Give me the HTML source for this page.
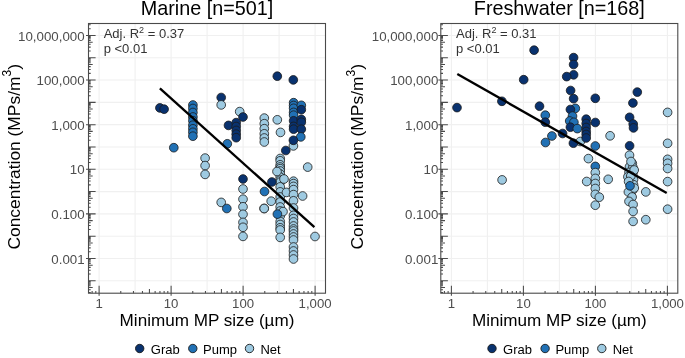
<!DOCTYPE html><html><head><meta charset="utf-8"><style>html,body{margin:0;padding:0;background:#fff;}svg{display:block;will-change:transform;}text{font-family:"Liberation Sans", sans-serif;}</style></head><body>
<svg width="685" height="358" viewBox="0 0 685 358">
<rect width="685" height="358" fill="#fff"/>
<line x1="99.10" y1="23.5" x2="99.10" y2="293.2" stroke="#F0F0F0" stroke-width="1.1"/><line x1="135.10" y1="23.5" x2="135.10" y2="293.2" stroke="#F0F0F0" stroke-width="1.1"/><line x1="171.10" y1="23.5" x2="171.10" y2="293.2" stroke="#F0F0F0" stroke-width="1.1"/><line x1="207.10" y1="23.5" x2="207.10" y2="293.2" stroke="#F0F0F0" stroke-width="1.1"/><line x1="243.10" y1="23.5" x2="243.10" y2="293.2" stroke="#F0F0F0" stroke-width="1.1"/><line x1="279.10" y1="23.5" x2="279.10" y2="293.2" stroke="#F0F0F0" stroke-width="1.1"/><line x1="315.10" y1="23.5" x2="315.10" y2="293.2" stroke="#F0F0F0" stroke-width="1.1"/><line x1="88.5" y1="280.81" x2="325.5" y2="280.81" stroke="#F0F0F0" stroke-width="1.1"/><line x1="88.5" y1="258.50" x2="325.5" y2="258.50" stroke="#F0F0F0" stroke-width="1.1"/><line x1="88.5" y1="236.19" x2="325.5" y2="236.19" stroke="#F0F0F0" stroke-width="1.1"/><line x1="88.5" y1="213.89" x2="325.5" y2="213.89" stroke="#F0F0F0" stroke-width="1.1"/><line x1="88.5" y1="191.58" x2="325.5" y2="191.58" stroke="#F0F0F0" stroke-width="1.1"/><line x1="88.5" y1="169.28" x2="325.5" y2="169.28" stroke="#F0F0F0" stroke-width="1.1"/><line x1="88.5" y1="146.98" x2="325.5" y2="146.98" stroke="#F0F0F0" stroke-width="1.1"/><line x1="88.5" y1="124.67" x2="325.5" y2="124.67" stroke="#F0F0F0" stroke-width="1.1"/><line x1="88.5" y1="102.36" x2="325.5" y2="102.36" stroke="#F0F0F0" stroke-width="1.1"/><line x1="88.5" y1="80.06" x2="325.5" y2="80.06" stroke="#F0F0F0" stroke-width="1.1"/><line x1="88.5" y1="57.76" x2="325.5" y2="57.76" stroke="#F0F0F0" stroke-width="1.1"/><line x1="88.5" y1="35.45" x2="325.5" y2="35.45" stroke="#F0F0F0" stroke-width="1.1"/>
<circle cx="159.9" cy="107.9" r="4.35" fill="#09326F" stroke="#1a1a1a" stroke-width="0.8"/>
<circle cx="164.1" cy="109.2" r="4.35" fill="#09326F" stroke="#1a1a1a" stroke-width="0.8"/>
<circle cx="173.8" cy="147.7" r="4.35" fill="#2171B5" stroke="#1a1a1a" stroke-width="0.8"/>
<circle cx="192.9" cy="105.0" r="4.35" fill="#2171B5" stroke="#1a1a1a" stroke-width="0.8"/>
<circle cx="192.9" cy="108.5" r="4.35" fill="#2171B5" stroke="#1a1a1a" stroke-width="0.8"/>
<circle cx="192.9" cy="112.5" r="4.35" fill="#2171B5" stroke="#1a1a1a" stroke-width="0.8"/>
<circle cx="192.9" cy="117.0" r="4.35" fill="#2171B5" stroke="#1a1a1a" stroke-width="0.8"/>
<circle cx="192.9" cy="120.7" r="4.35" fill="#2171B5" stroke="#1a1a1a" stroke-width="0.8"/>
<circle cx="192.9" cy="125.2" r="4.35" fill="#2171B5" stroke="#1a1a1a" stroke-width="0.8"/>
<circle cx="192.9" cy="128.8" r="4.35" fill="#2171B5" stroke="#1a1a1a" stroke-width="0.8"/>
<circle cx="192.9" cy="132.3" r="4.35" fill="#2171B5" stroke="#1a1a1a" stroke-width="0.8"/>
<circle cx="192.9" cy="136.2" r="4.35" fill="#2171B5" stroke="#1a1a1a" stroke-width="0.8"/>
<circle cx="205.1" cy="158.1" r="4.35" fill="#9ECAE1" stroke="#1a1a1a" stroke-width="0.8"/>
<circle cx="205.1" cy="165.6" r="4.35" fill="#9ECAE1" stroke="#1a1a1a" stroke-width="0.8"/>
<circle cx="205.1" cy="174.4" r="4.35" fill="#9ECAE1" stroke="#1a1a1a" stroke-width="0.8"/>
<circle cx="221.2" cy="97.5" r="4.35" fill="#09326F" stroke="#1a1a1a" stroke-width="0.8"/>
<circle cx="221.2" cy="104.9" r="4.35" fill="#9ECAE1" stroke="#1a1a1a" stroke-width="0.8"/>
<circle cx="239.7" cy="111.6" r="4.35" fill="#9ECAE1" stroke="#1a1a1a" stroke-width="0.8"/>
<circle cx="243.0" cy="117.0" r="4.35" fill="#09326F" stroke="#1a1a1a" stroke-width="0.8"/>
<circle cx="228.5" cy="125.4" r="4.35" fill="#09326F" stroke="#1a1a1a" stroke-width="0.8"/>
<circle cx="236.2" cy="122.6" r="4.35" fill="#09326F" stroke="#1a1a1a" stroke-width="0.8"/>
<circle cx="236.2" cy="126.5" r="4.35" fill="#09326F" stroke="#1a1a1a" stroke-width="0.8"/>
<circle cx="236.2" cy="130.4" r="4.35" fill="#09326F" stroke="#1a1a1a" stroke-width="0.8"/>
<circle cx="236.2" cy="134.2" r="4.35" fill="#09326F" stroke="#1a1a1a" stroke-width="0.8"/>
<circle cx="236.2" cy="137.7" r="4.35" fill="#09326F" stroke="#1a1a1a" stroke-width="0.8"/>
<circle cx="227.3" cy="143.8" r="4.35" fill="#2171B5" stroke="#1a1a1a" stroke-width="0.8"/>
<circle cx="221.2" cy="202.4" r="4.35" fill="#9ECAE1" stroke="#1a1a1a" stroke-width="0.8"/>
<circle cx="226.8" cy="208.5" r="4.35" fill="#2171B5" stroke="#1a1a1a" stroke-width="0.8"/>
<circle cx="243.0" cy="179.0" r="4.35" fill="#09326F" stroke="#1a1a1a" stroke-width="0.8"/>
<circle cx="243.0" cy="189.0" r="4.35" fill="#9ECAE1" stroke="#1a1a1a" stroke-width="0.8"/>
<circle cx="243.0" cy="199.2" r="4.35" fill="#9ECAE1" stroke="#1a1a1a" stroke-width="0.8"/>
<circle cx="243.0" cy="206.8" r="4.35" fill="#9ECAE1" stroke="#1a1a1a" stroke-width="0.8"/>
<circle cx="243.0" cy="214.3" r="4.35" fill="#9ECAE1" stroke="#1a1a1a" stroke-width="0.8"/>
<circle cx="243.0" cy="222.4" r="4.35" fill="#9ECAE1" stroke="#1a1a1a" stroke-width="0.8"/>
<circle cx="243.0" cy="227.3" r="4.35" fill="#9ECAE1" stroke="#1a1a1a" stroke-width="0.8"/>
<circle cx="243.0" cy="236.4" r="4.35" fill="#9ECAE1" stroke="#1a1a1a" stroke-width="0.8"/>
<circle cx="264.3" cy="118.1" r="4.35" fill="#9ECAE1" stroke="#1a1a1a" stroke-width="0.8"/>
<circle cx="264.3" cy="123.7" r="4.35" fill="#9ECAE1" stroke="#1a1a1a" stroke-width="0.8"/>
<circle cx="264.3" cy="128.7" r="4.35" fill="#9ECAE1" stroke="#1a1a1a" stroke-width="0.8"/>
<circle cx="264.3" cy="133.8" r="4.35" fill="#9ECAE1" stroke="#1a1a1a" stroke-width="0.8"/>
<circle cx="264.3" cy="138.0" r="4.35" fill="#9ECAE1" stroke="#1a1a1a" stroke-width="0.8"/>
<circle cx="264.3" cy="142.0" r="4.35" fill="#9ECAE1" stroke="#1a1a1a" stroke-width="0.8"/>
<circle cx="264.1" cy="208.5" r="4.35" fill="#9ECAE1" stroke="#1a1a1a" stroke-width="0.8"/>
<circle cx="264.5" cy="191.5" r="4.35" fill="#2171B5" stroke="#1a1a1a" stroke-width="0.8"/>
<circle cx="277.3" cy="76.2" r="4.35" fill="#09326F" stroke="#1a1a1a" stroke-width="0.8"/>
<circle cx="293.3" cy="79.9" r="4.35" fill="#09326F" stroke="#1a1a1a" stroke-width="0.8"/>
<circle cx="277.3" cy="119.8" r="4.35" fill="#9ECAE1" stroke="#1a1a1a" stroke-width="0.8"/>
<circle cx="280.5" cy="132.4" r="4.35" fill="#9ECAE1" stroke="#1a1a1a" stroke-width="0.8"/>
<circle cx="293.6" cy="102.7" r="4.35" fill="#2171B5" stroke="#1a1a1a" stroke-width="0.8"/>
<circle cx="293.6" cy="105.5" r="4.35" fill="#2171B5" stroke="#1a1a1a" stroke-width="0.8"/>
<circle cx="293.6" cy="108.3" r="4.35" fill="#2171B5" stroke="#1a1a1a" stroke-width="0.8"/>
<circle cx="293.6" cy="112.4" r="4.35" fill="#2171B5" stroke="#1a1a1a" stroke-width="0.8"/>
<circle cx="293.6" cy="115.2" r="4.35" fill="#2171B5" stroke="#1a1a1a" stroke-width="0.8"/>
<circle cx="293.6" cy="120.8" r="4.35" fill="#09326F" stroke="#1a1a1a" stroke-width="0.8"/>
<circle cx="293.6" cy="126.4" r="4.35" fill="#09326F" stroke="#1a1a1a" stroke-width="0.8"/>
<circle cx="293.6" cy="129.2" r="4.35" fill="#09326F" stroke="#1a1a1a" stroke-width="0.8"/>
<circle cx="301.3" cy="105.3" r="4.35" fill="#2171B5" stroke="#1a1a1a" stroke-width="0.8"/>
<circle cx="301.3" cy="109.7" r="4.35" fill="#09326F" stroke="#1a1a1a" stroke-width="0.8"/>
<circle cx="301.3" cy="119.4" r="4.35" fill="#09326F" stroke="#1a1a1a" stroke-width="0.8"/>
<circle cx="301.3" cy="122.2" r="4.35" fill="#09326F" stroke="#1a1a1a" stroke-width="0.8"/>
<circle cx="301.3" cy="129.2" r="4.35" fill="#09326F" stroke="#1a1a1a" stroke-width="0.8"/>
<circle cx="300.8" cy="136.9" r="4.35" fill="#2171B5" stroke="#1a1a1a" stroke-width="0.8"/>
<circle cx="293.4" cy="145.9" r="4.35" fill="#9ECAE1" stroke="#1a1a1a" stroke-width="0.8"/>
<circle cx="293.4" cy="140.3" r="4.35" fill="#09326F" stroke="#1a1a1a" stroke-width="0.8"/>
<circle cx="285.8" cy="150.5" r="4.35" fill="#09326F" stroke="#1a1a1a" stroke-width="0.8"/>
<circle cx="307.7" cy="167.1" r="4.35" fill="#9ECAE1" stroke="#1a1a1a" stroke-width="0.8"/>
<circle cx="280.2" cy="158.5" r="4.35" fill="#9ECAE1" stroke="#1a1a1a" stroke-width="0.8"/>
<circle cx="280.2" cy="160.8" r="4.35" fill="#9ECAE1" stroke="#1a1a1a" stroke-width="0.8"/>
<circle cx="280.2" cy="164.8" r="4.35" fill="#9ECAE1" stroke="#1a1a1a" stroke-width="0.8"/>
<circle cx="280.2" cy="167.0" r="4.35" fill="#9ECAE1" stroke="#1a1a1a" stroke-width="0.8"/>
<circle cx="280.2" cy="168.7" r="4.35" fill="#9ECAE1" stroke="#1a1a1a" stroke-width="0.8"/>
<circle cx="280.2" cy="171.0" r="4.35" fill="#9ECAE1" stroke="#1a1a1a" stroke-width="0.8"/>
<circle cx="280.2" cy="174.0" r="4.35" fill="#9ECAE1" stroke="#1a1a1a" stroke-width="0.8"/>
<circle cx="280.2" cy="177.0" r="4.35" fill="#9ECAE1" stroke="#1a1a1a" stroke-width="0.8"/>
<circle cx="280.2" cy="180.2" r="4.35" fill="#9ECAE1" stroke="#1a1a1a" stroke-width="0.8"/>
<circle cx="280.2" cy="182.1" r="4.35" fill="#9ECAE1" stroke="#1a1a1a" stroke-width="0.8"/>
<circle cx="280.2" cy="186.9" r="4.35" fill="#9ECAE1" stroke="#1a1a1a" stroke-width="0.8"/>
<circle cx="280.2" cy="191.9" r="4.35" fill="#9ECAE1" stroke="#1a1a1a" stroke-width="0.8"/>
<circle cx="280.2" cy="197.0" r="4.35" fill="#9ECAE1" stroke="#1a1a1a" stroke-width="0.8"/>
<circle cx="280.2" cy="202.0" r="4.35" fill="#9ECAE1" stroke="#1a1a1a" stroke-width="0.8"/>
<circle cx="280.2" cy="207.0" r="4.35" fill="#9ECAE1" stroke="#1a1a1a" stroke-width="0.8"/>
<circle cx="280.2" cy="211.0" r="4.35" fill="#9ECAE1" stroke="#1a1a1a" stroke-width="0.8"/>
<circle cx="280.2" cy="216.0" r="4.35" fill="#9ECAE1" stroke="#1a1a1a" stroke-width="0.8"/>
<circle cx="280.2" cy="221.5" r="4.35" fill="#9ECAE1" stroke="#1a1a1a" stroke-width="0.8"/>
<circle cx="280.2" cy="224.5" r="4.35" fill="#9ECAE1" stroke="#1a1a1a" stroke-width="0.8"/>
<circle cx="280.2" cy="227.8" r="4.35" fill="#9ECAE1" stroke="#1a1a1a" stroke-width="0.8"/>
<circle cx="280.2" cy="230.0" r="4.35" fill="#9ECAE1" stroke="#1a1a1a" stroke-width="0.8"/>
<circle cx="280.2" cy="237.4" r="4.35" fill="#9ECAE1" stroke="#1a1a1a" stroke-width="0.8"/>
<circle cx="277.0" cy="171.5" r="4.35" fill="#9ECAE1" stroke="#1a1a1a" stroke-width="0.8"/>
<circle cx="284.0" cy="179.0" r="4.35" fill="#9ECAE1" stroke="#1a1a1a" stroke-width="0.8"/>
<circle cx="271.9" cy="182.0" r="4.35" fill="#09326F" stroke="#1a1a1a" stroke-width="0.8"/>
<circle cx="271.2" cy="201.2" r="4.35" fill="#9ECAE1" stroke="#1a1a1a" stroke-width="0.8"/>
<circle cx="264.2" cy="208.5" r="4.35" fill="#9ECAE1" stroke="#1a1a1a" stroke-width="0.8"/>
<circle cx="286.5" cy="192.4" r="4.35" fill="#9ECAE1" stroke="#1a1a1a" stroke-width="0.8"/>
<circle cx="283.0" cy="211.6" r="4.35" fill="#9ECAE1" stroke="#1a1a1a" stroke-width="0.8"/>
<circle cx="277.4" cy="214.1" r="4.35" fill="#2171B5" stroke="#1a1a1a" stroke-width="0.8"/>
<circle cx="293.5" cy="181.2" r="4.35" fill="#9ECAE1" stroke="#1a1a1a" stroke-width="0.8"/>
<circle cx="293.5" cy="183.6" r="4.35" fill="#9ECAE1" stroke="#1a1a1a" stroke-width="0.8"/>
<circle cx="293.5" cy="186.4" r="4.35" fill="#9ECAE1" stroke="#1a1a1a" stroke-width="0.8"/>
<circle cx="293.5" cy="189.6" r="4.35" fill="#9ECAE1" stroke="#1a1a1a" stroke-width="0.8"/>
<circle cx="293.5" cy="194.6" r="4.35" fill="#9ECAE1" stroke="#1a1a1a" stroke-width="0.8"/>
<circle cx="293.5" cy="200.8" r="4.35" fill="#9ECAE1" stroke="#1a1a1a" stroke-width="0.8"/>
<circle cx="293.5" cy="208.0" r="4.35" fill="#9ECAE1" stroke="#1a1a1a" stroke-width="0.8"/>
<circle cx="293.5" cy="215.3" r="4.35" fill="#9ECAE1" stroke="#1a1a1a" stroke-width="0.8"/>
<circle cx="293.5" cy="218.5" r="4.35" fill="#9ECAE1" stroke="#1a1a1a" stroke-width="0.8"/>
<circle cx="293.5" cy="222.0" r="4.35" fill="#9ECAE1" stroke="#1a1a1a" stroke-width="0.8"/>
<circle cx="293.5" cy="226.0" r="4.35" fill="#9ECAE1" stroke="#1a1a1a" stroke-width="0.8"/>
<circle cx="293.5" cy="229.0" r="4.35" fill="#9ECAE1" stroke="#1a1a1a" stroke-width="0.8"/>
<circle cx="293.5" cy="231.0" r="4.35" fill="#9ECAE1" stroke="#1a1a1a" stroke-width="0.8"/>
<circle cx="293.5" cy="234.0" r="4.35" fill="#9ECAE1" stroke="#1a1a1a" stroke-width="0.8"/>
<circle cx="293.5" cy="237.0" r="4.35" fill="#9ECAE1" stroke="#1a1a1a" stroke-width="0.8"/>
<circle cx="293.5" cy="240.0" r="4.35" fill="#9ECAE1" stroke="#1a1a1a" stroke-width="0.8"/>
<circle cx="293.5" cy="247.0" r="4.35" fill="#9ECAE1" stroke="#1a1a1a" stroke-width="0.8"/>
<circle cx="293.5" cy="251.0" r="4.35" fill="#9ECAE1" stroke="#1a1a1a" stroke-width="0.8"/>
<circle cx="293.5" cy="255.0" r="4.35" fill="#9ECAE1" stroke="#1a1a1a" stroke-width="0.8"/>
<circle cx="293.5" cy="259.0" r="4.35" fill="#9ECAE1" stroke="#1a1a1a" stroke-width="0.8"/>
<circle cx="302.6" cy="196.0" r="4.35" fill="#9ECAE1" stroke="#1a1a1a" stroke-width="0.8"/>
<circle cx="315.0" cy="236.5" r="4.35" fill="#9ECAE1" stroke="#1a1a1a" stroke-width="0.8"/>
<line x1="159.9" y1="88.4" x2="314.4" y2="227.2" stroke="#000" stroke-width="2.35" stroke-linecap="butt"/>
<rect x="88.5" y="23.5" width="237.00" height="269.70" fill="none" stroke="#4A4A4A" stroke-width="1.1"/>
<path d="M88.50 292.47h2.2 M88.50 289.68h2.2 M88.50 287.52h4.2 M88.50 285.75h2.2 M88.50 284.26h2.2 M88.50 282.97h2.2 M88.50 281.83h2.2 M88.50 280.81h7.1 M88.50 274.09h2.2 M88.50 270.16h2.2 M88.50 267.38h2.2 M88.50 265.21h4.2 M88.50 263.45h2.2 M88.50 261.96h2.2 M88.50 260.66h2.2 M88.50 259.52h2.2 M88.50 258.50h7.1 M88.50 251.79h2.2 M88.50 247.86h2.2 M88.50 245.07h2.2 M88.50 242.91h4.2 M88.50 241.14h2.2 M88.50 239.65h2.2 M88.50 238.36h2.2 M88.50 237.22h2.2 M88.50 236.19h7.1 M88.50 229.48h2.2 M88.50 225.55h2.2 M88.50 222.77h2.2 M88.50 220.60h4.2 M88.50 218.84h2.2 M88.50 217.35h2.2 M88.50 216.05h2.2 M88.50 214.91h2.2 M88.50 213.89h7.1 M88.50 207.18h2.2 M88.50 203.25h2.2 M88.50 200.46h2.2 M88.50 198.30h4.2 M88.50 196.53h2.2 M88.50 195.04h2.2 M88.50 193.75h2.2 M88.50 192.61h2.2 M88.50 191.58h7.1 M88.50 184.87h2.2 M88.50 180.94h2.2 M88.50 178.16h2.2 M88.50 175.99h4.2 M88.50 174.23h2.2 M88.50 172.74h2.2 M88.50 171.44h2.2 M88.50 170.30h2.2 M88.50 169.28h7.1 M88.50 162.57h2.2 M88.50 158.64h2.2 M88.50 155.85h2.2 M88.50 153.69h4.2 M88.50 151.92h2.2 M88.50 150.43h2.2 M88.50 149.14h2.2 M88.50 148.00h2.2 M88.50 146.98h7.1 M88.50 140.26h2.2 M88.50 136.33h2.2 M88.50 133.55h2.2 M88.50 131.38h4.2 M88.50 129.62h2.2 M88.50 128.13h2.2 M88.50 126.83h2.2 M88.50 125.69h2.2 M88.50 124.67h7.1 M88.50 117.96h2.2 M88.50 114.03h2.2 M88.50 111.24h2.2 M88.50 109.08h4.2 M88.50 107.31h2.2 M88.50 105.82h2.2 M88.50 104.53h2.2 M88.50 103.39h2.2 M88.50 102.36h7.1 M88.50 95.65h2.2 M88.50 91.72h2.2 M88.50 88.94h2.2 M88.50 86.77h4.2 M88.50 85.01h2.2 M88.50 83.52h2.2 M88.50 82.22h2.2 M88.50 81.08h2.2 M88.50 80.06h7.1 M88.50 73.35h2.2 M88.50 69.42h2.2 M88.50 66.63h2.2 M88.50 64.47h4.2 M88.50 62.70h2.2 M88.50 61.21h2.2 M88.50 59.92h2.2 M88.50 58.78h2.2 M88.50 57.76h7.1 M88.50 51.04h2.2 M88.50 47.11h2.2 M88.50 44.33h2.2 M88.50 42.16h4.2 M88.50 40.40h2.2 M88.50 38.91h2.2 M88.50 37.61h2.2 M88.50 36.47h2.2 M88.50 35.45h7.1 M88.50 28.74h2.2 M88.50 24.81h2.2 M92.12 293.20v-2.2 M95.81 293.20v-2.2 M99.10 293.20v-7.4 M120.77 293.20v-2.2 M133.45 293.20v-2.2 M142.45 293.20v-2.2 M149.43 293.20v-4.2 M155.13 293.20v-2.2 M159.95 293.20v-2.2 M164.12 293.20v-2.2 M167.81 293.20v-2.2 M171.10 293.20v-7.4 M192.77 293.20v-2.2 M205.45 293.20v-2.2 M214.45 293.20v-2.2 M221.43 293.20v-4.2 M227.13 293.20v-2.2 M231.95 293.20v-2.2 M236.12 293.20v-2.2 M239.81 293.20v-2.2 M243.10 293.20v-7.4 M264.77 293.20v-2.2 M277.45 293.20v-2.2 M286.45 293.20v-2.2 M293.43 293.20v-4.2 M299.13 293.20v-2.2 M303.95 293.20v-2.2 M308.12 293.20v-2.2 M311.81 293.20v-2.2 M315.10 293.20v-7.4 M86.00 35.45h2.5 M86.00 80.06h2.5 M86.00 124.67h2.5 M86.00 169.28h2.5 M86.00 213.89h2.5 M86.00 258.50h2.5 M99.10 293.20v2.5 M171.10 293.20v2.5 M243.10 293.20v2.5 M315.10 293.20v2.5" stroke="#4A4A4A" stroke-width="1.05" fill="none"/>
<text x="84.6" y="40.5" font-size="13.3" fill="#4D4D4D" text-anchor="end">10,000,000</text>
<text x="84.6" y="85.1" font-size="13.3" fill="#4D4D4D" text-anchor="end">100,000</text>
<text x="84.6" y="129.7" font-size="13.3" fill="#4D4D4D" text-anchor="end">1,000</text>
<text x="84.6" y="174.3" font-size="13.3" fill="#4D4D4D" text-anchor="end">10</text>
<text x="84.6" y="218.9" font-size="13.3" fill="#4D4D4D" text-anchor="end">0.100</text>
<text x="84.6" y="263.5" font-size="13.3" fill="#4D4D4D" text-anchor="end">0.001</text>
<text x="99.1" y="307.7" font-size="13.2" fill="#4D4D4D" text-anchor="middle">1</text>
<text x="171.1" y="307.7" font-size="13.2" fill="#4D4D4D" text-anchor="middle">10</text>
<text x="243.1" y="307.7" font-size="13.2" fill="#4D4D4D" text-anchor="middle">100</text>
<text x="315.1" y="307.7" font-size="13.2" fill="#4D4D4D" text-anchor="middle">1,000</text>
<text x="207.0" y="14.8" font-size="19.8" fill="#000" text-anchor="middle">Marine [n=501]</text>
<text x="207.0" y="325.6" font-size="17.1" fill="#000" text-anchor="middle">Minimum MP size (µm)</text>
<text transform="translate(19.6,156.8) rotate(-90)" font-size="17.4" fill="#000" text-anchor="middle">Concentration (MPs/m<tspan dy="-8.6" font-size="12">3</tspan><tspan dy="8.6">)</tspan></text>
<text x="103.7" y="37.8" font-size="13" fill="#333">Adj. R<tspan dy="-4.5" font-size="9">2</tspan><tspan dy="4.5"> = 0.37</tspan></text>
<text x="103.7" y="53.4" font-size="13" fill="#333">p &lt;0.01</text>
<circle cx="139.7" cy="348.5" r="4.2" fill="#09326F" stroke="#1a1a1a" stroke-width="0.9"/>
<text x="150.8" y="353.8" font-size="13" fill="#000">Grab</text>
<circle cx="192.8" cy="348.5" r="4.2" fill="#2171B5" stroke="#1a1a1a" stroke-width="0.9"/>
<text x="203.1" y="353.8" font-size="13" fill="#000">Pump</text>
<circle cx="249.5" cy="348.5" r="4.2" fill="#9ECAE1" stroke="#1a1a1a" stroke-width="0.9"/>
<text x="260.4" y="353.8" font-size="13" fill="#000">Net</text>
<line x1="451.40" y1="23.5" x2="451.40" y2="293.2" stroke="#F0F0F0" stroke-width="1.1"/><line x1="487.40" y1="23.5" x2="487.40" y2="293.2" stroke="#F0F0F0" stroke-width="1.1"/><line x1="523.40" y1="23.5" x2="523.40" y2="293.2" stroke="#F0F0F0" stroke-width="1.1"/><line x1="559.40" y1="23.5" x2="559.40" y2="293.2" stroke="#F0F0F0" stroke-width="1.1"/><line x1="595.40" y1="23.5" x2="595.40" y2="293.2" stroke="#F0F0F0" stroke-width="1.1"/><line x1="631.40" y1="23.5" x2="631.40" y2="293.2" stroke="#F0F0F0" stroke-width="1.1"/><line x1="667.40" y1="23.5" x2="667.40" y2="293.2" stroke="#F0F0F0" stroke-width="1.1"/><line x1="440.8" y1="280.81" x2="677.8" y2="280.81" stroke="#F0F0F0" stroke-width="1.1"/><line x1="440.8" y1="258.50" x2="677.8" y2="258.50" stroke="#F0F0F0" stroke-width="1.1"/><line x1="440.8" y1="236.19" x2="677.8" y2="236.19" stroke="#F0F0F0" stroke-width="1.1"/><line x1="440.8" y1="213.89" x2="677.8" y2="213.89" stroke="#F0F0F0" stroke-width="1.1"/><line x1="440.8" y1="191.58" x2="677.8" y2="191.58" stroke="#F0F0F0" stroke-width="1.1"/><line x1="440.8" y1="169.28" x2="677.8" y2="169.28" stroke="#F0F0F0" stroke-width="1.1"/><line x1="440.8" y1="146.98" x2="677.8" y2="146.98" stroke="#F0F0F0" stroke-width="1.1"/><line x1="440.8" y1="124.67" x2="677.8" y2="124.67" stroke="#F0F0F0" stroke-width="1.1"/><line x1="440.8" y1="102.36" x2="677.8" y2="102.36" stroke="#F0F0F0" stroke-width="1.1"/><line x1="440.8" y1="80.06" x2="677.8" y2="80.06" stroke="#F0F0F0" stroke-width="1.1"/><line x1="440.8" y1="57.76" x2="677.8" y2="57.76" stroke="#F0F0F0" stroke-width="1.1"/><line x1="440.8" y1="35.45" x2="677.8" y2="35.45" stroke="#F0F0F0" stroke-width="1.1"/>
<circle cx="502.1" cy="179.9" r="4.35" fill="#9ECAE1" stroke="#1a1a1a" stroke-width="0.8"/>
<circle cx="457.0" cy="107.6" r="4.35" fill="#09326F" stroke="#1a1a1a" stroke-width="0.8"/>
<circle cx="501.9" cy="101.3" r="4.35" fill="#09326F" stroke="#1a1a1a" stroke-width="0.8"/>
<circle cx="523.7" cy="79.7" r="4.35" fill="#09326F" stroke="#1a1a1a" stroke-width="0.8"/>
<circle cx="534.1" cy="50.2" r="4.35" fill="#09326F" stroke="#1a1a1a" stroke-width="0.8"/>
<circle cx="539.5" cy="106.2" r="4.35" fill="#09326F" stroke="#1a1a1a" stroke-width="0.8"/>
<circle cx="545.3" cy="115.2" r="4.35" fill="#2171B5" stroke="#1a1a1a" stroke-width="0.8"/>
<circle cx="545.3" cy="122.2" r="4.35" fill="#09326F" stroke="#1a1a1a" stroke-width="0.8"/>
<circle cx="551.9" cy="136.0" r="4.35" fill="#2171B5" stroke="#1a1a1a" stroke-width="0.8"/>
<circle cx="545.5" cy="142.5" r="4.35" fill="#2171B5" stroke="#1a1a1a" stroke-width="0.8"/>
<circle cx="562.6" cy="133.5" r="4.35" fill="#09326F" stroke="#1a1a1a" stroke-width="0.8"/>
<circle cx="573.6" cy="57.6" r="4.35" fill="#09326F" stroke="#1a1a1a" stroke-width="0.8"/>
<circle cx="573.6" cy="64.5" r="4.35" fill="#09326F" stroke="#1a1a1a" stroke-width="0.8"/>
<circle cx="573.6" cy="74.8" r="4.35" fill="#09326F" stroke="#1a1a1a" stroke-width="0.8"/>
<circle cx="573.6" cy="98.7" r="4.35" fill="#09326F" stroke="#1a1a1a" stroke-width="0.8"/>
<circle cx="570.6" cy="90.5" r="4.35" fill="#09326F" stroke="#1a1a1a" stroke-width="0.8"/>
<circle cx="566.7" cy="76.6" r="4.35" fill="#09326F" stroke="#1a1a1a" stroke-width="0.8"/>
<circle cx="575.3" cy="108.4" r="4.35" fill="#2171B5" stroke="#1a1a1a" stroke-width="0.8"/>
<circle cx="570.4" cy="109.5" r="4.35" fill="#09326F" stroke="#1a1a1a" stroke-width="0.8"/>
<circle cx="572.5" cy="116.1" r="4.35" fill="#2171B5" stroke="#1a1a1a" stroke-width="0.8"/>
<circle cx="569.7" cy="121.0" r="4.35" fill="#2171B5" stroke="#1a1a1a" stroke-width="0.8"/>
<circle cx="573.9" cy="122.3" r="4.35" fill="#2171B5" stroke="#1a1a1a" stroke-width="0.8"/>
<circle cx="570.4" cy="127.2" r="4.35" fill="#09326F" stroke="#1a1a1a" stroke-width="0.8"/>
<circle cx="577.3" cy="128.6" r="4.35" fill="#2171B5" stroke="#1a1a1a" stroke-width="0.8"/>
<circle cx="580.3" cy="141.5" r="4.35" fill="#9ECAE1" stroke="#1a1a1a" stroke-width="0.8"/>
<circle cx="573.4" cy="143.2" r="4.35" fill="#09326F" stroke="#1a1a1a" stroke-width="0.8"/>
<circle cx="586.2" cy="119.2" r="4.35" fill="#09326F" stroke="#1a1a1a" stroke-width="0.8"/>
<circle cx="586.2" cy="123.5" r="4.35" fill="#09326F" stroke="#1a1a1a" stroke-width="0.8"/>
<circle cx="586.2" cy="127.5" r="4.35" fill="#09326F" stroke="#1a1a1a" stroke-width="0.8"/>
<circle cx="586.2" cy="131.5" r="4.35" fill="#09326F" stroke="#1a1a1a" stroke-width="0.8"/>
<circle cx="586.2" cy="134.5" r="4.35" fill="#09326F" stroke="#1a1a1a" stroke-width="0.8"/>
<circle cx="586.2" cy="138.0" r="4.35" fill="#09326F" stroke="#1a1a1a" stroke-width="0.8"/>
<circle cx="595.3" cy="98.3" r="4.35" fill="#09326F" stroke="#1a1a1a" stroke-width="0.8"/>
<circle cx="595.3" cy="122.5" r="4.35" fill="#09326F" stroke="#1a1a1a" stroke-width="0.8"/>
<circle cx="595.3" cy="146.0" r="4.35" fill="#2171B5" stroke="#1a1a1a" stroke-width="0.8"/>
<circle cx="588.4" cy="158.6" r="4.35" fill="#9ECAE1" stroke="#1a1a1a" stroke-width="0.8"/>
<circle cx="595.3" cy="166.4" r="4.35" fill="#2171B5" stroke="#1a1a1a" stroke-width="0.8"/>
<circle cx="595.3" cy="172.6" r="4.35" fill="#9ECAE1" stroke="#1a1a1a" stroke-width="0.8"/>
<circle cx="595.3" cy="178.4" r="4.35" fill="#9ECAE1" stroke="#1a1a1a" stroke-width="0.8"/>
<circle cx="595.3" cy="183.5" r="4.35" fill="#9ECAE1" stroke="#1a1a1a" stroke-width="0.8"/>
<circle cx="595.3" cy="188.5" r="4.35" fill="#9ECAE1" stroke="#1a1a1a" stroke-width="0.8"/>
<circle cx="595.3" cy="194.4" r="4.35" fill="#9ECAE1" stroke="#1a1a1a" stroke-width="0.8"/>
<circle cx="595.3" cy="205.2" r="4.35" fill="#9ECAE1" stroke="#1a1a1a" stroke-width="0.8"/>
<circle cx="586.7" cy="181.5" r="4.35" fill="#9ECAE1" stroke="#1a1a1a" stroke-width="0.8"/>
<circle cx="599.3" cy="197.2" r="4.35" fill="#9ECAE1" stroke="#1a1a1a" stroke-width="0.8"/>
<circle cx="608.2" cy="179.3" r="4.35" fill="#9ECAE1" stroke="#1a1a1a" stroke-width="0.8"/>
<circle cx="610.1" cy="135.8" r="4.35" fill="#9ECAE1" stroke="#1a1a1a" stroke-width="0.8"/>
<circle cx="637.3" cy="92.1" r="4.35" fill="#09326F" stroke="#1a1a1a" stroke-width="0.8"/>
<circle cx="632.9" cy="103.0" r="4.35" fill="#09326F" stroke="#1a1a1a" stroke-width="0.8"/>
<circle cx="629.6" cy="117.3" r="4.35" fill="#09326F" stroke="#1a1a1a" stroke-width="0.8"/>
<circle cx="633.2" cy="124.0" r="4.35" fill="#09326F" stroke="#1a1a1a" stroke-width="0.8"/>
<circle cx="633.5" cy="127.9" r="4.35" fill="#09326F" stroke="#1a1a1a" stroke-width="0.8"/>
<circle cx="629.6" cy="145.8" r="4.35" fill="#09326F" stroke="#1a1a1a" stroke-width="0.8"/>
<circle cx="629.5" cy="155.2" r="4.35" fill="#9ECAE1" stroke="#1a1a1a" stroke-width="0.8"/>
<circle cx="632.3" cy="163.4" r="4.35" fill="#9ECAE1" stroke="#1a1a1a" stroke-width="0.8"/>
<circle cx="629.5" cy="166.8" r="4.35" fill="#9ECAE1" stroke="#1a1a1a" stroke-width="0.8"/>
<circle cx="632.9" cy="167.3" r="4.35" fill="#9ECAE1" stroke="#1a1a1a" stroke-width="0.8"/>
<circle cx="629.0" cy="172.4" r="4.35" fill="#9ECAE1" stroke="#1a1a1a" stroke-width="0.8"/>
<circle cx="632.9" cy="173.5" r="4.35" fill="#9ECAE1" stroke="#1a1a1a" stroke-width="0.8"/>
<circle cx="627.9" cy="176.8" r="4.35" fill="#9ECAE1" stroke="#1a1a1a" stroke-width="0.8"/>
<circle cx="633.5" cy="179.6" r="4.35" fill="#9ECAE1" stroke="#1a1a1a" stroke-width="0.8"/>
<circle cx="633.5" cy="184.7" r="4.35" fill="#9ECAE1" stroke="#1a1a1a" stroke-width="0.8"/>
<circle cx="632.8" cy="190.0" r="4.35" fill="#9ECAE1" stroke="#1a1a1a" stroke-width="0.8"/>
<circle cx="628.4" cy="192.0" r="4.35" fill="#9ECAE1" stroke="#1a1a1a" stroke-width="0.8"/>
<circle cx="632.1" cy="197.0" r="4.35" fill="#9ECAE1" stroke="#1a1a1a" stroke-width="0.8"/>
<circle cx="629.0" cy="201.4" r="4.35" fill="#9ECAE1" stroke="#1a1a1a" stroke-width="0.8"/>
<circle cx="633.1" cy="204.5" r="4.35" fill="#9ECAE1" stroke="#1a1a1a" stroke-width="0.8"/>
<circle cx="633.1" cy="211.4" r="4.35" fill="#9ECAE1" stroke="#1a1a1a" stroke-width="0.8"/>
<circle cx="633.1" cy="221.4" r="4.35" fill="#9ECAE1" stroke="#1a1a1a" stroke-width="0.8"/>
<circle cx="631.0" cy="161.5" r="4.35" fill="#9ECAE1" stroke="#1a1a1a" stroke-width="0.8"/>
<circle cx="634.2" cy="170.0" r="4.35" fill="#9ECAE1" stroke="#1a1a1a" stroke-width="0.8"/>
<circle cx="630.8" cy="176.0" r="4.35" fill="#9ECAE1" stroke="#1a1a1a" stroke-width="0.8"/>
<circle cx="628.6" cy="181.5" r="4.35" fill="#9ECAE1" stroke="#1a1a1a" stroke-width="0.8"/>
<circle cx="634.3" cy="188.0" r="4.35" fill="#9ECAE1" stroke="#1a1a1a" stroke-width="0.8"/>
<circle cx="630.0" cy="185.8" r="4.35" fill="#2171B5" stroke="#1a1a1a" stroke-width="0.8"/>
<circle cx="645.8" cy="191.9" r="4.35" fill="#9ECAE1" stroke="#1a1a1a" stroke-width="0.8"/>
<circle cx="645.8" cy="219.7" r="4.35" fill="#9ECAE1" stroke="#1a1a1a" stroke-width="0.8"/>
<circle cx="667.6" cy="112.4" r="4.35" fill="#9ECAE1" stroke="#1a1a1a" stroke-width="0.8"/>
<circle cx="667.6" cy="143.3" r="4.35" fill="#9ECAE1" stroke="#1a1a1a" stroke-width="0.8"/>
<circle cx="667.6" cy="159.3" r="4.35" fill="#9ECAE1" stroke="#1a1a1a" stroke-width="0.8"/>
<circle cx="667.6" cy="163.3" r="4.35" fill="#9ECAE1" stroke="#1a1a1a" stroke-width="0.8"/>
<circle cx="667.6" cy="168.5" r="4.35" fill="#9ECAE1" stroke="#1a1a1a" stroke-width="0.8"/>
<circle cx="667.6" cy="181.6" r="4.35" fill="#9ECAE1" stroke="#1a1a1a" stroke-width="0.8"/>
<circle cx="667.6" cy="209.2" r="4.35" fill="#9ECAE1" stroke="#1a1a1a" stroke-width="0.8"/>
<line x1="457.3" y1="74.0" x2="666.7" y2="193.0" stroke="#000" stroke-width="2.35" stroke-linecap="butt"/>
<rect x="440.8" y="23.5" width="237.00" height="269.70" fill="none" stroke="#4A4A4A" stroke-width="1.1"/>
<path d="M440.80 292.47h2.2 M440.80 289.68h2.2 M440.80 287.52h4.2 M440.80 285.75h2.2 M440.80 284.26h2.2 M440.80 282.97h2.2 M440.80 281.83h2.2 M440.80 280.81h7.1 M440.80 274.09h2.2 M440.80 270.16h2.2 M440.80 267.38h2.2 M440.80 265.21h4.2 M440.80 263.45h2.2 M440.80 261.96h2.2 M440.80 260.66h2.2 M440.80 259.52h2.2 M440.80 258.50h7.1 M440.80 251.79h2.2 M440.80 247.86h2.2 M440.80 245.07h2.2 M440.80 242.91h4.2 M440.80 241.14h2.2 M440.80 239.65h2.2 M440.80 238.36h2.2 M440.80 237.22h2.2 M440.80 236.19h7.1 M440.80 229.48h2.2 M440.80 225.55h2.2 M440.80 222.77h2.2 M440.80 220.60h4.2 M440.80 218.84h2.2 M440.80 217.35h2.2 M440.80 216.05h2.2 M440.80 214.91h2.2 M440.80 213.89h7.1 M440.80 207.18h2.2 M440.80 203.25h2.2 M440.80 200.46h2.2 M440.80 198.30h4.2 M440.80 196.53h2.2 M440.80 195.04h2.2 M440.80 193.75h2.2 M440.80 192.61h2.2 M440.80 191.58h7.1 M440.80 184.87h2.2 M440.80 180.94h2.2 M440.80 178.16h2.2 M440.80 175.99h4.2 M440.80 174.23h2.2 M440.80 172.74h2.2 M440.80 171.44h2.2 M440.80 170.30h2.2 M440.80 169.28h7.1 M440.80 162.57h2.2 M440.80 158.64h2.2 M440.80 155.85h2.2 M440.80 153.69h4.2 M440.80 151.92h2.2 M440.80 150.43h2.2 M440.80 149.14h2.2 M440.80 148.00h2.2 M440.80 146.98h7.1 M440.80 140.26h2.2 M440.80 136.33h2.2 M440.80 133.55h2.2 M440.80 131.38h4.2 M440.80 129.62h2.2 M440.80 128.13h2.2 M440.80 126.83h2.2 M440.80 125.69h2.2 M440.80 124.67h7.1 M440.80 117.96h2.2 M440.80 114.03h2.2 M440.80 111.24h2.2 M440.80 109.08h4.2 M440.80 107.31h2.2 M440.80 105.82h2.2 M440.80 104.53h2.2 M440.80 103.39h2.2 M440.80 102.36h7.1 M440.80 95.65h2.2 M440.80 91.72h2.2 M440.80 88.94h2.2 M440.80 86.77h4.2 M440.80 85.01h2.2 M440.80 83.52h2.2 M440.80 82.22h2.2 M440.80 81.08h2.2 M440.80 80.06h7.1 M440.80 73.35h2.2 M440.80 69.42h2.2 M440.80 66.63h2.2 M440.80 64.47h4.2 M440.80 62.70h2.2 M440.80 61.21h2.2 M440.80 59.92h2.2 M440.80 58.78h2.2 M440.80 57.76h7.1 M440.80 51.04h2.2 M440.80 47.11h2.2 M440.80 44.33h2.2 M440.80 42.16h4.2 M440.80 40.40h2.2 M440.80 38.91h2.2 M440.80 37.61h2.2 M440.80 36.47h2.2 M440.80 35.45h7.1 M440.80 28.74h2.2 M440.80 24.81h2.2 M444.42 293.20v-2.2 M448.11 293.20v-2.2 M451.40 293.20v-7.4 M473.07 293.20v-2.2 M485.75 293.20v-2.2 M494.75 293.20v-2.2 M501.73 293.20v-4.2 M507.43 293.20v-2.2 M512.25 293.20v-2.2 M516.42 293.20v-2.2 M520.11 293.20v-2.2 M523.40 293.20v-7.4 M545.07 293.20v-2.2 M557.75 293.20v-2.2 M566.75 293.20v-2.2 M573.73 293.20v-4.2 M579.43 293.20v-2.2 M584.25 293.20v-2.2 M588.42 293.20v-2.2 M592.11 293.20v-2.2 M595.40 293.20v-7.4 M617.07 293.20v-2.2 M629.75 293.20v-2.2 M638.75 293.20v-2.2 M645.73 293.20v-4.2 M651.43 293.20v-2.2 M656.25 293.20v-2.2 M660.42 293.20v-2.2 M664.11 293.20v-2.2 M667.40 293.20v-7.4 M438.30 35.45h2.5 M438.30 80.06h2.5 M438.30 124.67h2.5 M438.30 169.28h2.5 M438.30 213.89h2.5 M438.30 258.50h2.5 M451.40 293.20v2.5 M523.40 293.20v2.5 M595.40 293.20v2.5 M667.40 293.20v2.5" stroke="#4A4A4A" stroke-width="1.05" fill="none"/>
<text x="438.3" y="40.5" font-size="13.3" fill="#4D4D4D" text-anchor="end">10,000,000</text>
<text x="438.3" y="85.1" font-size="13.3" fill="#4D4D4D" text-anchor="end">100,000</text>
<text x="438.3" y="129.7" font-size="13.3" fill="#4D4D4D" text-anchor="end">1,000</text>
<text x="438.3" y="174.3" font-size="13.3" fill="#4D4D4D" text-anchor="end">10</text>
<text x="438.3" y="218.9" font-size="13.3" fill="#4D4D4D" text-anchor="end">0.100</text>
<text x="438.3" y="263.5" font-size="13.3" fill="#4D4D4D" text-anchor="end">0.001</text>
<text x="451.4" y="307.7" font-size="13.2" fill="#4D4D4D" text-anchor="middle">1</text>
<text x="523.4" y="307.7" font-size="13.2" fill="#4D4D4D" text-anchor="middle">10</text>
<text x="595.4" y="307.7" font-size="13.2" fill="#4D4D4D" text-anchor="middle">100</text>
<text x="667.4" y="307.7" font-size="13.2" fill="#4D4D4D" text-anchor="middle">1,000</text>
<text x="559.3" y="14.8" font-size="19.8" fill="#000" text-anchor="middle">Freshwater [n=168]</text>
<text x="559.3" y="325.6" font-size="17.1" fill="#000" text-anchor="middle">Minimum MP size (µm)</text>
<text transform="translate(363.2,156.8) rotate(-90)" font-size="17.4" fill="#000" text-anchor="middle">Concentration (MPs/m<tspan dy="-8.6" font-size="12">3</tspan><tspan dy="8.6">)</tspan></text>
<text x="456.0" y="37.8" font-size="13" fill="#333">Adj. R<tspan dy="-4.5" font-size="9">2</tspan><tspan dy="4.5"> = 0.31</tspan></text>
<text x="456.0" y="53.4" font-size="13" fill="#333">p &lt;0.01</text>
<circle cx="492.0" cy="348.5" r="4.2" fill="#09326F" stroke="#1a1a1a" stroke-width="0.9"/>
<text x="503.1" y="353.8" font-size="13" fill="#000">Grab</text>
<circle cx="545.1" cy="348.5" r="4.2" fill="#2171B5" stroke="#1a1a1a" stroke-width="0.9"/>
<text x="555.4" y="353.8" font-size="13" fill="#000">Pump</text>
<circle cx="601.8" cy="348.5" r="4.2" fill="#9ECAE1" stroke="#1a1a1a" stroke-width="0.9"/>
<text x="612.7" y="353.8" font-size="13" fill="#000">Net</text>
</svg></body></html>
